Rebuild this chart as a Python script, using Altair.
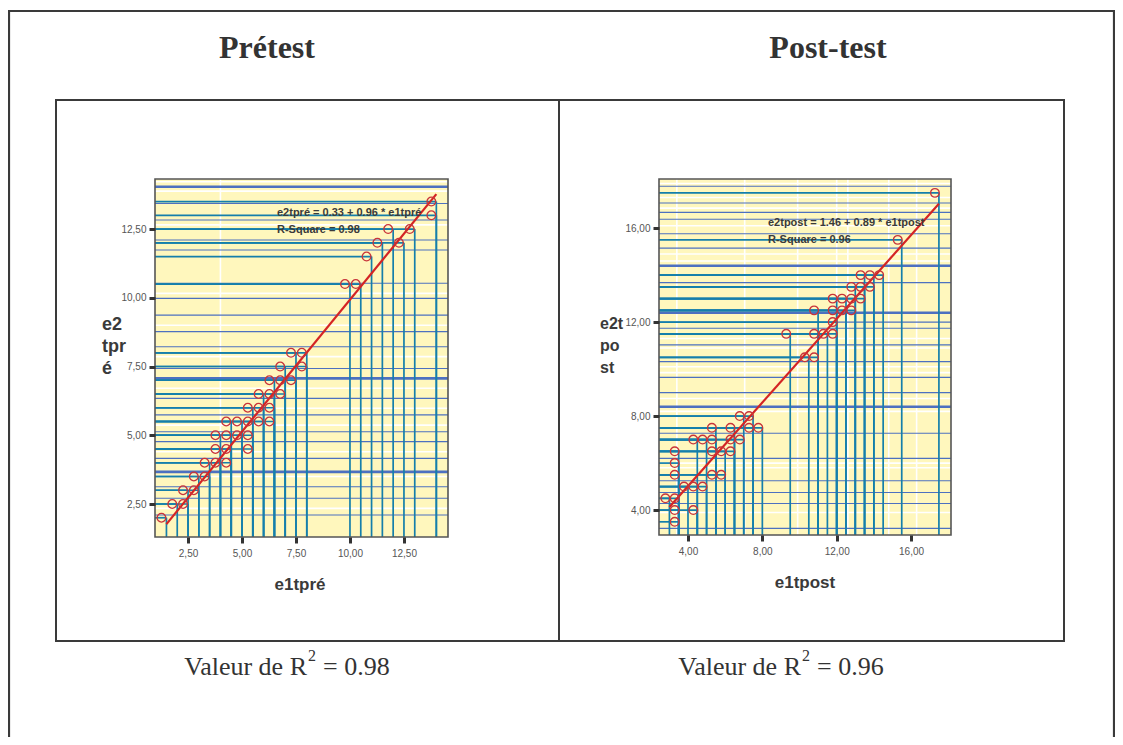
import altair as alt
import pandas as pd

W, H = 1107, 729

# ---------------- data : Prétest ----------------
pre_x = [1.5, 2.0, 2.5, 2.5, 3.0, 3.0, 3.5, 3.5, 4.0, 4.5, 4.0, 4.5, 5.5, 4.0, 4.5, 5.0, 5.5,
         4.5, 5.0, 5.5, 6.0, 6.5, 5.5, 6.0, 6.5, 6.0, 6.5, 7.0, 6.5, 7.0, 7.5, 7.0, 8.0, 7.5,
         8.0, 10.0, 10.5, 11.0, 11.5, 12.5, 12.0, 13.0, 14.0, 14.0]
pre_y = [2.0, 2.5, 2.5, 3.0, 3.0, 3.5, 3.5, 4.0, 4.0, 4.0, 4.5, 4.5, 4.5, 5.0, 5.0, 5.0, 5.0,
         5.5, 5.5, 5.5, 5.5, 5.5, 6.0, 6.0, 6.0, 6.5, 6.5, 6.5, 7.0, 7.0, 7.0, 7.5, 7.5, 8.0,
         8.0, 10.5, 10.5, 11.5, 12.0, 12.0, 12.5, 12.5, 13.5, 13.0]
pre_fit_x = [1.5, 14.0]
pre_fit_y = [1.77, 13.77]
pre_xticks = [2.5, 5.0, 7.5, 10.0, 12.5]
pre_yticks = [2.5, 5.0, 7.5, 10.0, 12.5]
pre_blue = [13.43, 12.83, 12.1, 11.74, 10.53, 9.98, 9.37, 8.77, 8.22, 7.43, 6.34, 5.74, 5.13,
            4.77, 4.16, 3.13, 2.71, 2.1]
pre_blue_thick = [14.04, 7.07, 3.67]
pre_white_h = [14.22, 13.88, 12.65, 10.16, 9.0, 7.86, 6.71, 5.98, 5.37, 4.4, 3.5, 2.34]
pre_white_v = [4.0]

# ---------------- data : Post-test ----------------
post_x = [17.5, 15.5, 13.5, 14.0, 14.5, 13.0, 13.5, 14.0, 12.0, 12.5, 13.0, 13.5, 11.0, 12.0,
          12.5, 13.0, 12.0, 9.5, 11.0, 11.5, 12.0, 10.5, 11.0, 7.0, 7.5, 5.5, 6.5, 7.5, 8.0,
          4.5, 5.0, 5.5, 6.5, 7.0, 3.5, 5.5, 6.0, 6.5, 3.5, 3.5, 5.5, 6.0, 4.0, 4.5, 5.0, 3.0,
          3.5, 3.5, 4.5, 3.5]
post_y = [17.5, 15.5, 14.0, 14.0, 14.0, 13.5, 13.5, 13.5, 13.0, 13.0, 13.0, 13.0, 12.5, 12.5,
          12.5, 12.5, 12.0, 11.5, 11.5, 11.5, 11.5, 10.5, 10.5, 8.0, 8.0, 7.5, 7.5, 7.5, 7.5,
          7.0, 7.0, 7.0, 7.0, 7.0, 6.5, 6.5, 6.5, 6.5, 6.0, 5.5, 5.5, 5.5, 5.0, 5.0, 5.0, 4.5,
          4.5, 4.0, 4.0, 3.5]
post_fit_x = [3.0, 17.5]
post_fit_y = [4.13, 17.04]
post_xticks = [4.0, 8.0, 12.0, 16.0]
post_yticks = [4.0, 8.0, 12.0, 16.0]
post_blue = [17.78, 17.07, 16.67, 16.38, 15.76, 15.15, 13.68, 12.0, 11.74, 11.03, 10.32,
             9.65, 9.0, 7.27, 6.2, 5.25, 4.75, 4.28, 3.22]
post_blue_thick = [14.4, 12.4, 8.4]
post_white_h = [17.9, 17.3, 16.85, 16.1, 14.9, 14.6, 11.3, 10.9, 10.1, 9.85, 8.75, 8.2, 6.0,
                5.8, 3.9]
post_white_v = [3.4, 7.05, 9.9, 12.0, 12.6, 14.8, 16.3]

YELLOW = "#fff7bd"
BLUE = "#4d70c0"
TEAL = "#157fab"
RED = "#c8343a"
LINE_RED = "#d42424"
one = pd.DataFrame({"k": [0]})
NARROW = "Liberation Sans Narrow, Liberation Sans, Arial"
SERIF = "Liberation Serif, Times New Roman, serif"


def panel(xs, ys, fx, fy, xdom, ydom, xr, yr, xticks, yticks, blue, blue_thick,
          white_h, white_v, xoff):
    x0, x1 = xr
    yb, yt = yr
    lab = "replace(format(datum.value, '.2f'), '.', ',')"
    common = dict(grid=False, domain=False, tickSize=6, tickWidth=3, tickColor="#333333",
                  labelFont=NARROW, labelFontSize=10, labelColor="#555555", title=None,
                  zindex=2, labelExpr=lab)
    ax_x = alt.Axis(orient="bottom", offset=-(H - yb), values=xticks, labelPadding=5,
                    **common)
    ax_y = alt.Axis(orient="left", offset=-x0, values=yticks, labelPadding=3, **common)
    sx = alt.Scale(domain=xdom, range=[x0, x1], zero=False, nice=False)
    sy = alt.Scale(domain=ydom, range=[yb, yt], zero=False, nice=False)

    def X(f):
        return alt.X(f, type="quantitative", scale=sx, axis=ax_x)

    def Y(f):
        return alt.Y(f, type="quantitative", scale=sy, axis=ax_y)

    pts = pd.DataFrame({"x": xs, "y": ys})
    bg = alt.Chart(one).mark_rect(fill=YELLOW).encode(
        x=alt.value(x0), x2=alt.value(x1), y=alt.value(yt), y2=alt.value(yb))
    wh = alt.Chart(pd.DataFrame({"y": white_h})).mark_rule(
        color="white", strokeWidth=1.6).encode(y=Y("y"), x=alt.value(x0), x2=alt.value(x1))
    wv = alt.Chart(pd.DataFrame({"x": white_v})).mark_rule(
        color="white", strokeWidth=1.6).encode(x=X("x"), y=alt.value(yt), y2=alt.value(yb))
    bl = alt.Chart(pd.DataFrame({"y": blue})).mark_rule(
        color=BLUE, strokeWidth=1.1).encode(y=Y("y"), x=alt.value(x0), x2=alt.value(x1))
    blt = alt.Chart(pd.DataFrame({"y": blue_thick})).mark_rule(
        color=BLUE, strokeWidth=2.6).encode(y=Y("y"), x=alt.value(x0), x2=alt.value(x1))
    hs = alt.Chart(pts).mark_rule(color=TEAL, strokeWidth=1.7).encode(
        y=Y("y"), x=X("x"), x2=alt.value(x0))
    vs = alt.Chart(pts).mark_rule(color=TEAL, strokeWidth=1.7).encode(
        x=X("x"), y=Y("y"), y2=alt.value(yb))
    fit = alt.Chart(pd.DataFrame({"x": fx, "y": fy})).mark_line(
        color=LINE_RED, strokeWidth=2.2).encode(x=X("x"), y=Y("y"))
    pt = alt.Chart(pts).mark_point(shape="circle", filled=False, color=RED, size=75,
                                   strokeWidth=1.3, xOffset=xoff, opacity=1).encode(
        x=X("x"), y=Y("y"))
    frame = alt.Chart(one).mark_rect(fill=None, stroke="#555555", strokeWidth=1.6).encode(
        x=alt.value(x0), x2=alt.value(x1), y=alt.value(yt), y2=alt.value(yb))
    return alt.layer(bg, wh, wv, bl, blt, hs, vs, fit, pt, frame)


def txt(s, x, y, **kw):
    return alt.Chart(one).mark_text(text=s, **kw).encode(x=alt.value(x), y=alt.value(y))


def box(x0, y0, x1, y1, fill=None, sw=2):
    return alt.Chart(one).mark_rect(fill=fill, stroke="#3a3a3a", strokeWidth=sw).encode(
        x=alt.value(x0), x2=alt.value(x1), y=alt.value(y0), y2=alt.value(y1))


decor = [
    box(1, 3, 1106, 760, fill=None, sw=2.2),
    box(48, 92, 692, 633, fill="white"),
    box(551, 92, 1056, 633, fill="white"),
    txt("Prétest", 259, 50, font=SERIF, fontSize=32, fontWeight="bold", color="#333333",
        align="center", baseline="alphabetic"),
    txt("Post-test", 820, 50, font=SERIF, fontSize=32, fontWeight="bold", color="#333333",
        align="center", baseline="alphabetic"),
    # captions
    txt("Valeur de R", 299, 667, font=SERIF, fontSize=26, color="#333333", align="right",
        baseline="alphabetic"),
    txt("2", 300, 653, font=SERIF, fontSize=16, color="#333333", align="left",
        baseline="alphabetic"),
    txt("= 0.98", 315, 667, font=SERIF, fontSize=26, color="#333333", align="left",
        baseline="alphabetic"),
    txt("Valeur de R", 793, 667, font=SERIF, fontSize=26, color="#333333", align="right",
        baseline="alphabetic"),
    txt("2", 794, 653, font=SERIF, fontSize=16, color="#333333", align="left",
        baseline="alphabetic"),
    txt("= 0.96", 809, 667, font=SERIF, fontSize=26, color="#333333", align="left",
        baseline="alphabetic"),
]

labels = [
    txt("e1tpré", 292, 577, font=NARROW, fontSize=17, fontWeight="bold", color="#3a3a3a",
        align="center", baseline="middle"),
    txt("e1tpost", 797, 575, font=NARROW, fontSize=17, fontWeight="bold", color="#3a3a3a",
        align="center", baseline="middle"),
    txt(["e2", "tpr", "é"], 94, 308, font=NARROW, fontSize=18, fontWeight="bold",
        color="#3a3a3a", align="left", baseline="top", lineHeight=22),
    txt(["e2t", "po", "st"], 592, 308, font=NARROW, fontSize=16, fontWeight="bold",
        color="#3a3a3a", align="left", baseline="top", lineHeight=22),
    txt("e2tpré = 0.33 + 0.96 * e1tpré", 269, 205, font=NARROW, fontSize=11,
        fontWeight="bold", color="#3a3a3a", align="left", baseline="middle"),
    txt("R-Square = 0.98", 269, 222, font=NARROW, fontSize=11, fontWeight="bold",
        color="#3a3a3a", align="left", baseline="middle"),
    txt("e2tpost = 1.46 + 0.89 * e1tpost", 760, 215, font=NARROW, fontSize=11,
        fontWeight="bold", color="#3a3a3a", align="left", baseline="middle"),
    txt("R-Square = 0.96", 760, 232, font=NARROW, fontSize=11, fontWeight="bold",
        color="#3a3a3a", align="left", baseline="middle"),
]

pA = panel(pre_x, pre_y, pre_fit_x, pre_fit_y, [0.97, 14.54], [1.30, 14.32], (147, 440),
           (529, 171), pre_xticks, pre_yticks, pre_blue, pre_blue_thick, pre_white_h,
           pre_white_v, -5)
pB = panel(post_x, post_y, post_fit_x, post_fit_y, [2.44, 18.15], [2.94, 18.09], (651, 943),
           (527, 171), post_xticks, post_yticks, post_blue, post_blue_thick, post_white_h,
           post_white_v, -4)

chart = alt.layer(*decor, pA, pB, *labels).resolve_scale(
    x="independent", y="independent").properties(
    width=W, height=H, padding=0, autosize=alt.AutoSizeParams(type="none")
).configure_view(stroke=None)

chart.save("out.html", embed_options={"renderer": "svg", "actions": False})
